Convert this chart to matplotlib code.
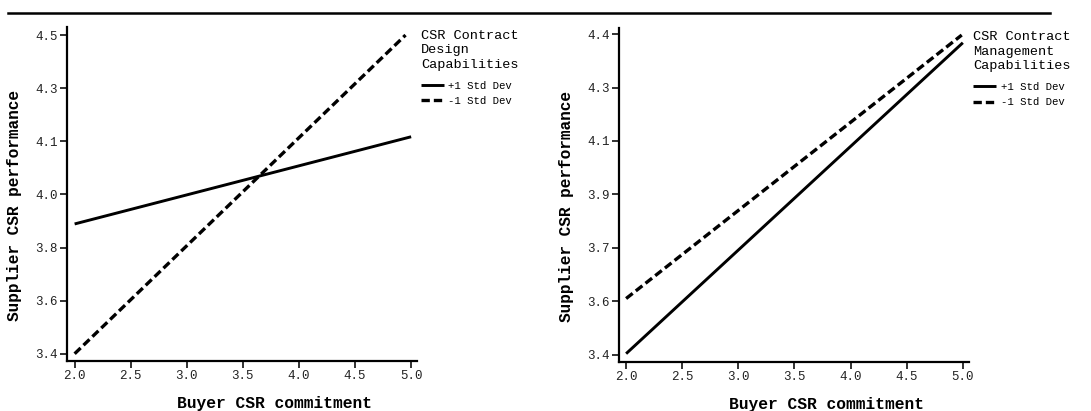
import numpy as np
import matplotlib
matplotlib.use('Agg')
import matplotlib.pyplot as plt
from matplotlib.lines import Line2D

plt.rcParams['font.family'] = ['Liberation Mono', 'DejaVu Sans Mono']

x_ticks = [2.0, 2.5, 3.0, 3.5, 4.0, 4.5, 5.0]
series_labels = ['+1 Std Dev', '-1 Std Dev']

# left panel: design capabilities (ticks evenly spaced, labels as printed)
left_ytick_pos = np.linspace(3.4, 4.5, 7)
left_ytick_labels = ['3.4', '3.6', '3.8', '4.0', '4.1', '4.3', '4.5']
left_high_x = [2.0, 5.0]
left_high = [3.848, 4.149]
left_low_x = [2.0, 4.95]
left_low = [3.40, 4.50]

# right panel: management capabilities
right_ytick_pos = np.linspace(3.4, 4.4, 7)
right_ytick_labels = ['3.4', '3.6', '3.7', '3.9', '4.1', '4.3', '4.4']
right_high_x = [2.0, 5.0]
right_high = [3.403, 4.373]
right_low_x = [2.0, 4.99]
right_low = [3.575, 4.397]


def draw_panel(ax, hx, high, lx, low, ytick_pos, ytick_labels, title, xlim, ylim):
    ax.plot(hx, high, color='black', lw=2.1, solid_capstyle='butt',
            label=series_labels[0])
    ax.plot(lx, low, color='black', lw=2.4, dashes=(2.5, 1.2),
            label=series_labels[1])
    ax.set_xlim(*xlim)
    ax.set_ylim(*ylim)
    ax.set_xticks(x_ticks)
    ax.set_xticklabels(['%.1f' % v for v in x_ticks])
    ax.set_yticks(ytick_pos)
    ax.set_yticklabels(ytick_labels)
    for s in ['top', 'right']:
        ax.spines[s].set_visible(False)
    for s in ['left', 'bottom']:
        ax.spines[s].set_linewidth(1.6)
    ax.tick_params(axis='both', length=5, width=1.3, labelsize=9,
                   colors='#222222', pad=1.5)
    ax.set_xlabel('Buyer CSR commitment', fontsize=11.7, fontweight='bold')
    ax.set_ylabel('Supplier CSR performance', fontsize=11.6, fontweight='bold')
    ax.xaxis.set_label_coords(0.594, -0.105)
    ax.yaxis.set_label_coords(-0.127, 0.464)
    leg = ax.legend(loc='upper left', bbox_to_anchor=(1.012, 0.991), frameon=False,
                    title=title, title_fontsize=9.7, fontsize=7.7,
                    handlelength=2.15, handletextpad=0.4, labelspacing=0.5,
                    borderaxespad=0.0, borderpad=0.0, alignment='left')
    leg.get_title().set_linespacing(1.27)
    # extra gap between the title block and the entries
    leg._legend_box.sep = 7


fig = plt.figure(figsize=(10.91, 4.11), dpi=100)
ax1 = fig.add_axes([0.0611, 0.1217, 0.3211, 0.8127])
ax2 = fig.add_axes([0.5672, 0.1200, 0.3211, 0.8111])

draw_panel(ax1, left_high_x, left_high, left_low_x, left_low,
           left_ytick_pos, left_ytick_labels,
           'CSR Contract\nDesign\nCapabilities', (1.929, 5.052), (3.375, 4.528))
draw_panel(ax2, right_high_x, right_high, right_low_x, right_low,
           right_ytick_pos, right_ytick_labels,
           'CSR Contract\nManagement\nCapabilities', (1.935, 5.056), (3.378, 4.418))

# rule across the top of the figure
fig.add_artist(Line2D([0.007, 0.9625], [0.968, 0.968], color='black', lw=1.8,
                      transform=fig.transFigure))

fig.savefig('out.png', dpi=100)
